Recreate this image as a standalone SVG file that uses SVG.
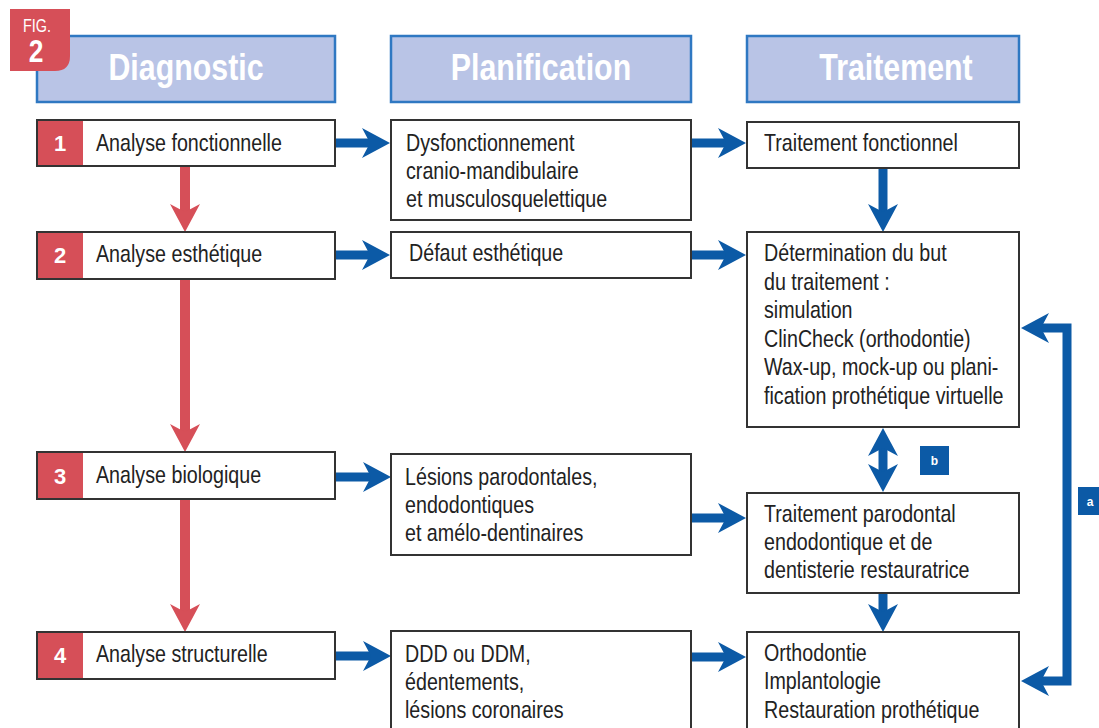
<svg xmlns="http://www.w3.org/2000/svg" width="1099" height="728" viewBox="0 0 1099 728">
<style>
.hdr{fill:#b9c4e6;stroke:#2f78c2;stroke-width:2.5}
.hdrt{font-family:"Liberation Sans",Arial,sans-serif;font-weight:bold;font-size:37px;fill:#fff;text-anchor:middle}
.box{fill:#fff;stroke:#333;stroke-width:2}
.num{fill:#d64f58}
.numt{font-family:"Liberation Sans",Arial,sans-serif;font-weight:bold;font-size:22px;fill:#fff;text-anchor:middle}
.t{font-family:"Liberation Sans",Arial,sans-serif;font-size:24px;fill:#222}
.blue{fill:none;stroke:#0c5aa6;stroke-width:9;marker-end:url(#ab)}
.red{fill:none;stroke:#d64f58;stroke-width:10;marker-end:url(#ar)}
.lab{fill:#0c5aa6}
.labt{font-family:"Liberation Sans",Arial,sans-serif;font-weight:bold;font-size:12px;fill:#fff;text-anchor:middle}
.fig{font-family:"Liberation Sans",Arial,sans-serif;fill:#fff}
</style>
<defs>
<marker id="ab" viewBox="0 0 28 32" refX="8" refY="16" markerWidth="28" markerHeight="32" markerUnits="userSpaceOnUse" orient="auto-start-reverse">
<path d="M0,1 L28,16 L0,31 L8,16 Z" fill="#0c5aa6"/>
</marker>
<marker id="ar" viewBox="0 0 28 32" refX="8" refY="16" markerWidth="28" markerHeight="32" markerUnits="userSpaceOnUse" orient="auto-start-reverse">
<path d="M0,1 L28,16 L0,31 L8,16 Z" fill="#d64f58"/>
</marker>
</defs>
<rect width="1099" height="728" fill="#fff"/>

<g id="headers">
<g id="h-diagnostic"><rect class="hdr" x="37" y="36" width="298" height="66"/><text class="hdrt" transform="translate(186,80) scale(0.82,1)">Diagnostic</text></g>
<g id="h-planification"><rect class="hdr" x="391" y="36" width="300" height="66"/><text class="hdrt" transform="translate(541,80) scale(0.82,1)">Planification</text></g>
<g id="h-traitement"><rect class="hdr" x="747" y="36" width="272" height="66"/><text class="hdrt" transform="translate(896,80) scale(0.82,1)">Traitement</text></g>
</g>

<g id="fig-badge">
<path d="M10,9 H70 V56 Q70,71 55,71 H10 Z" fill="#d64f58"/>
<text class="fig" font-size="18" transform="translate(23,32) scale(0.8,1)">FIG.</text>
<text class="fig" font-size="31" font-weight="bold" text-anchor="middle" transform="translate(36,62) scale(0.85,1)">2</text>
</g>

<g id="connectors">
<path class="red" d="M185,166 V212"/>
<path class="red" d="M185,279 V432"/>
<path class="red" d="M185,499 V612"/>
<path class="blue" d="M335,143 H370"/>
<path class="blue" d="M691,143 H726"/>
<path class="blue" d="M335,255 H370"/>
<path class="blue" d="M691,255 H726"/>
<path class="blue" d="M335,477 H371"/>
<path class="blue" d="M691,518 H726"/>
<path class="blue" d="M335,656 H371"/>
<path class="blue" d="M691,657 H726"/>
<path class="blue" d="M883,168 V212"/>
<path class="blue" d="M883,593 V612"/>
<path class="blue" d="M883,448 V472" style="marker-start:url(#ab)"/>
<path class="blue" d="M1041,328 H1067 V681 H1041" style="marker-start:url(#ab)"/>
</g>

<g id="label-a"><rect class="lab" x="1078" y="487" width="26" height="28"/><text class="labt" x="1090" y="506">a</text></g>
<g id="label-b"><rect class="lab" x="920" y="446" width="29" height="29"/><text class="labt" x="934.5" y="465">b</text></g>

<g id="d1"><rect class="box" x="37" y="120" width="298" height="46"/><rect class="num" x="38" y="121" width="45" height="44"/><text class="numt" x="60" y="151">1</text><text class="t" transform="translate(96,151) scale(0.82,1)">Analyse fonctionnelle</text></g>
<g id="d2"><rect class="box" x="37" y="232" width="298" height="47"/><rect class="num" x="38" y="233" width="45" height="45"/><text class="numt" x="60" y="263">2</text><text class="t" transform="translate(96,262) scale(0.82,1)">Analyse esthétique</text></g>
<g id="d3"><rect class="box" x="37" y="452" width="298" height="47"/><rect class="num" x="38" y="453" width="45" height="45"/><text class="numt" x="60" y="484">3</text><text class="t" transform="translate(96,483) scale(0.82,1)">Analyse biologique</text></g>
<g id="d4"><rect class="box" x="37" y="632" width="298" height="47"/><rect class="num" x="38" y="633" width="45" height="45"/><text class="numt" x="60" y="663">4</text><text class="t" transform="translate(96,662) scale(0.82,1)">Analyse structurelle</text></g>

<g id="p1"><rect class="box" x="391" y="120" width="300" height="100"/><text class="t" transform="translate(406,0) scale(0.82,1)"><tspan x="0" y="151">Dysfonctionnement</tspan><tspan x="0" y="179">cranio-mandibulaire</tspan><tspan x="0" y="207">et musculosquelettique</tspan></text></g>
<g id="p2"><rect class="box" x="391" y="232" width="300" height="46"/><text class="t" transform="translate(409,261) scale(0.82,1)">Défaut esthétique</text></g>
<g id="p3"><rect class="box" x="391" y="454" width="300" height="101"/><text class="t" transform="translate(405,0) scale(0.82,1)"><tspan x="0" y="485">Lésions parodontales,</tspan><tspan x="0" y="513">endodontiques</tspan><tspan x="0" y="541">et amélo-dentinaires</tspan></text></g>
<g id="p4"><rect class="box" x="391" y="631" width="300" height="110"/><text class="t" transform="translate(405,0) scale(0.82,1)"><tspan x="0" y="662">DDD ou DDM,</tspan><tspan x="0" y="690">édentements,</tspan><tspan x="0" y="718">lésions coronaires</tspan></text></g>

<g id="t1"><rect class="box" x="747" y="122" width="272" height="46"/><text class="t" transform="translate(764,151) scale(0.82,1)">Traitement fonctionnel</text></g>
<g id="t2"><rect class="box" x="747" y="232" width="272" height="195"/><text class="t" transform="translate(764,0) scale(0.82,1)"><tspan x="0" y="261">Détermination du but</tspan><tspan x="0" y="290">du traitement :</tspan><tspan x="0" y="318">simulation</tspan><tspan x="0" y="347">ClinCheck (orthodontie)</tspan><tspan x="0" y="375">Wax-up, mock-up ou plani-</tspan><tspan x="0" y="404">fication prothétique virtuelle</tspan></text></g>
<g id="t3"><rect class="box" x="747" y="493" width="272" height="100"/><text class="t" transform="translate(764,0) scale(0.82,1)"><tspan x="0" y="522">Traitement parodontal</tspan><tspan x="0" y="550">endodontique et de</tspan><tspan x="0" y="578">dentisterie restauratrice</tspan></text></g>
<g id="t4"><rect class="box" x="747" y="632" width="272" height="110"/><text class="t" transform="translate(764,0) scale(0.82,1)"><tspan x="0" y="661">Orthodontie</tspan><tspan x="0" y="689">Implantologie</tspan><tspan x="0" y="718">Restauration prothétique</tspan></text></g>
</svg>
